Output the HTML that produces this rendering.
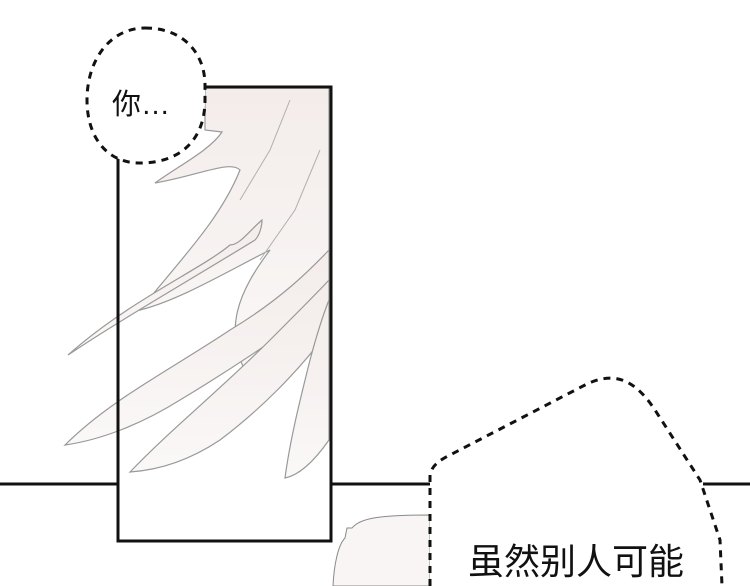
<!DOCTYPE html>
<html><head><meta charset="utf-8"><style>
html,body{margin:0;padding:0;background:#fff;width:750px;height:586px;overflow:hidden}
svg{display:block}
text{font-family:"Liberation Sans","Noto Sans CJK SC",sans-serif;fill:#111}
</style></head><body>
<svg width="750" height="586" viewBox="0 0 750 586">
<defs>
<linearGradient id="g" x1="0" y1="0" x2="0" y2="1">
<stop offset="0" stop-color="#f3ecea"/><stop offset="1" stop-color="#faf8f7"/>
</linearGradient>
</defs>
<g fill="url(#g)" stroke="#999" stroke-width="1.2">
<path d="M205,88 L329,88 L329,300 C300,330 280,360 250,380 C220,330 240,290 270,250 C230,270 180,300 140,310 C180,260 220,220 240,170 C230,160 200,175 155,183 C180,165 210,150 222,132 L205,130 Z"/>
<path d="M68,355 C120,320 190,280 255,240 C260,235 262,225 262,220 C250,230 240,245 230,245 C200,270 130,300 68,355 Z"/>
<path d="M65,445 C110,400 170,370 230,330 C280,300 310,270 329,250 L329,300 C290,330 230,370 180,400 C140,425 100,440 65,445 Z"/>
<path d="M130,472 C170,430 220,390 270,340 C300,310 320,290 329,280 L329,330 C300,370 260,410 220,440 C190,460 160,470 130,472 Z"/>
<path d="M285,478 C290,440 300,400 310,360 C318,330 325,310 329,300 L329,440 C315,460 300,475 285,478 Z"/>
</g>
<g fill="none" stroke="#b0b0b0" stroke-width="1">
<path d="M240,200 L270,150 L290,100"/>
<path d="M260,260 L295,210 L320,150"/>
</g>
<g fill="none" stroke="#111" stroke-width="3">
<path d="M205,87 L331,87 L331,541 L118,541 L118,155"/>
<path d="M0,484 L118,484 M331,484 L430,484 M703,484 L750,484"/>
</g>
<path d="M333,586 C334,565 338,545 345,538 L347,528 L352,528 C360,518 380,515 430,515 L430,586 Z" fill="#f8f5f4" stroke="#8a8a8a" stroke-width="1"/>
<path d="M145,28 C185,28 205,55 205,85 L205,100 C205,140 180,163 140,163 C105,163 87,135 87,100 C87,60 110,28 145,28 Z" fill="#fff" stroke="#111" stroke-width="3" stroke-dasharray="7,6"/>
<text x="112" y="114" font-size="29">你…</text>
<path d="M430,586 L430,475 C432,465 440,460 450,455 L585,385 C615,370 635,380 655,410 L700,480 L720,540 L722,586 Z" fill="#fff" stroke="none"/>
<path d="M430,586 L430,475 C432,465 440,460 450,455 L585,385 C615,370 635,380 655,410 L700,480 L720,540 L722,586" fill="none" stroke="#111" stroke-width="3" stroke-dasharray="7,6"/>
<text x="468" y="574" font-size="36">虽然别人可能</text>
</svg>
</body></html>
